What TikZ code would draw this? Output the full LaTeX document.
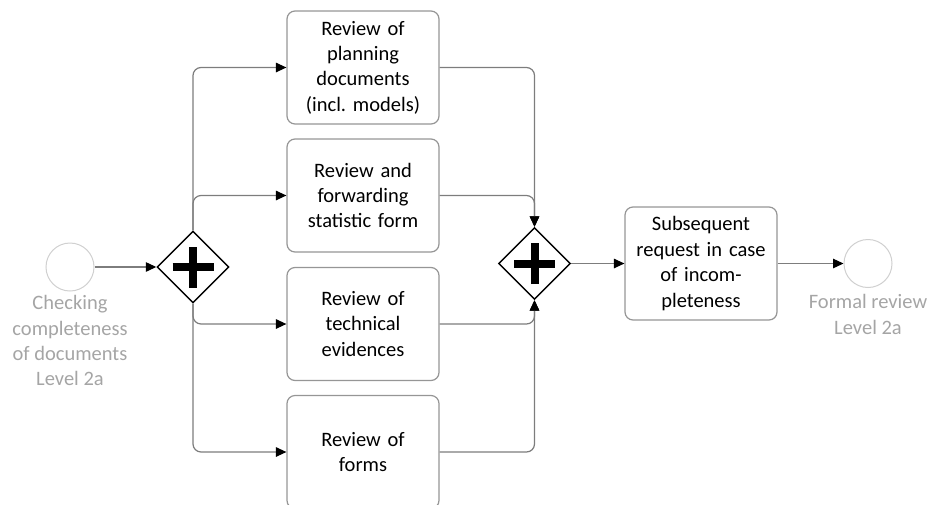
\documentclass[tikz,border=0pt]{standalone}
\usepackage{fontspec}
\setmainfont{Carlito}
\usetikzlibrary{shapes.geometric,arrows.meta}

\definecolor{flowgray}{RGB}{125,125,125}
\definecolor{boxgray}{RGB}{150,150,150}
\definecolor{labelgray}{RGB}{165,165,165}
\definecolor{eventgray}{RGB}{208,208,208}

\tikzset{
  task/.style={draw=boxgray, line width=1.2pt, rounded corners=8pt,
    minimum width=152pt, minimum height=113pt, inner sep=2pt,
    align=center, text width=146pt, fill=white,
    font=\fontsize{20.5}{25.4}\selectfont},
  gateway/.style={draw=black, line width=1.4pt, diamond, aspect=1,
    minimum size=72pt, inner sep=0pt, fill=white},
  event/.style={draw=eventgray, line width=1pt, circle,
    minimum size=48pt, inner sep=0pt},
  evlabel/.style={text=labelgray, align=center,
    font=\fontsize{20.5}{25.4}\selectfont},
  flow/.style={draw=flowgray, line width=1.2pt, rounded corners=8pt,
    -{Triangle[length=10.5pt,width=9.5pt,color=black]}},
  plusbar/.style={line width=8pt, draw=black}
}

\begin{document}
\frenchspacing
\begin{tikzpicture}[x=1pt,y=-1pt]
  \useasboundingbox (0,0) rectangle (931,504);
  \clip (0,0) rectangle (931,504);

  % events
  \node[event] (start) at (70,267) {};
  \node[evlabel, anchor=north] (startlbl) at (70,292)
    {Checking\\completeness\\of documents\\Level 2a};
  \node[event] (end) at (868,263.5) {};
  \node[evlabel, anchor=north] (endlbl) at (868,291)
    {Formal review\\Level 2a};

  % parallel gateways
  \node[gateway] (split) at (193,267) {};
  \node[gateway] (join) at (534.5,263.5) {};
  \foreach \g in {split,join}{
    \draw[plusbar] ([xshift=-20.5pt]\g.center) -- ([xshift=20.5pt]\g.center);
    \draw[plusbar] ([yshift=-20.5pt]\g.center) -- ([yshift=20.5pt]\g.center);
  }

  % tasks
  \node[task] (t1) at (363,67.5) {Review of\\planning\\documents\\(incl. models)};
  \node[task] (t2) at (363,195.5) {Review and\\forwarding\\statistic form};
  \node[task] (t3) at (363,324) {Review of\\technical\\evidences};
  \node[task] (t4) at (363,452) {Review of\\forms};
  \node[task] (t5) at (701,263.5) {Subsequent\\request in case\\of incom-\\pleteness};

  % sequence flows
  \draw[flow] (start) -- (split);
  \draw[flow] (split.north) |- (t1.west);
  \draw[flow] (split.north) |- (t2.west);
  \draw[flow] (split.south) |- (t3.west);
  \draw[flow] (split.south) |- (t4.west);
  \draw[flow] (t1.east) -| (join.north);
  \draw[flow] (t2.east) -| (join.north);
  \draw[flow] (t3.east) -| (join.south);
  \draw[flow] (t4.east) -| (join.south);
  \draw[flow] (join) -- (t5);
  \draw[flow] (t5) -- (end);
\end{tikzpicture}
\end{document}
